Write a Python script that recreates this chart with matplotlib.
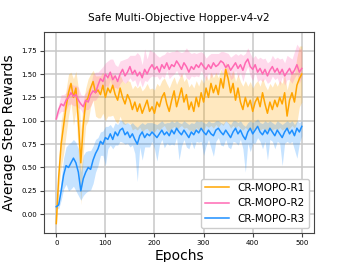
import numpy as np
from matplotlib import pyplot as plt

epochs = list(range(0, 501, 5))

r1_mean = [
    -0.10, 0.40, 0.75, 0.95, 1.15, 1.30, 1.40, 1.25, 1.35, 1.00, 0.55,
    0.95, 1.20, 1.25, 1.35, 1.42, 1.30, 1.33, 1.28, 1.38, 1.25,
    1.35, 1.30, 1.38, 1.28, 1.22, 1.35, 1.25, 1.18, 1.28, 1.22,
    1.12, 1.20, 1.10, 1.18, 1.08, 1.15, 1.22, 1.10, 1.15, 1.08,
    1.20, 1.15, 1.25, 1.30, 1.18, 1.10, 1.22, 1.32, 1.15, 1.25,
    1.35, 1.20, 1.28, 1.12, 1.20, 1.10, 1.25, 1.15, 1.30, 1.20,
    1.35, 1.25, 1.40, 1.30, 1.38, 1.28, 1.45, 1.35, 1.55, 1.45,
    1.30, 1.40, 1.22, 1.35, 1.20, 1.12, 1.25, 1.15, 1.22, 1.10,
    1.20, 1.25, 1.15, 1.30, 1.18, 1.08, 1.20, 1.12, 1.22, 1.15,
    1.25, 1.18, 1.30, 1.05, 1.22, 1.30, 1.20, 1.38, 1.45, 1.50,
]
r1_lo = [
    0.05, 0.15, 0.25, 0.30, 0.30, 0.25, 0.20, 0.30, 0.25, 0.35, 0.45,
    0.30, 0.25, 0.25, 0.20, 0.20, 0.25, 0.30, 0.25, 0.30, 0.25,
    0.30, 0.25, 0.32, 0.28, 0.25, 0.30, 0.28, 0.22, 0.30, 0.25,
    0.22, 0.28, 0.20, 0.25, 0.20, 0.24, 0.30, 0.22, 0.25, 0.20,
    0.28, 0.25, 0.32, 0.35, 0.28, 0.22, 0.30, 0.38, 0.25, 0.32,
    0.40, 0.28, 0.35, 0.22, 0.30, 0.22, 0.32, 0.25, 0.38, 0.30,
    0.40, 0.32, 0.45, 0.38, 0.42, 0.35, 0.48, 0.40, 0.55, 0.48,
    0.38, 0.45, 0.30, 0.40, 0.28, 0.22, 0.32, 0.25, 0.30, 0.20,
    0.28, 0.32, 0.25, 0.38, 0.28, 0.18, 0.30, 0.22, 0.30, 0.25,
    0.32, 0.28, 0.38, 0.15, 0.30, 0.35, 0.28, 0.40, 0.30, 0.30,
]
r1_hi = [
    0.05, 0.15, 0.25, 0.20, 0.18, 0.20, 0.12, 0.20, 0.18, 0.35, 0.35,
    0.25, 0.15, 0.20, 0.15, 0.12, 0.18, 0.15, 0.20, 0.14, 0.18,
    0.15, 0.18, 0.12, 0.16, 0.20, 0.14, 0.18, 0.22, 0.15, 0.20,
    0.22, 0.18, 0.25, 0.20, 0.24, 0.20, 0.18, 0.24, 0.20, 0.25,
    0.20, 0.22, 0.18, 0.16, 0.22, 0.25, 0.20, 0.15, 0.24, 0.20,
    0.16, 0.22, 0.18, 0.24, 0.20, 0.25, 0.18, 0.22, 0.15, 0.20,
    0.14, 0.18, 0.12, 0.16, 0.14, 0.18, 0.10, 0.16, 0.08, 0.12,
    0.18, 0.14, 0.20, 0.15, 0.22, 0.25, 0.18, 0.22, 0.20, 0.25,
    0.20, 0.18, 0.22, 0.16, 0.20, 0.25, 0.20, 0.24, 0.20, 0.22,
    0.18, 0.22, 0.20, 0.28, 0.22, 0.25, 0.30, 0.30, 0.35, 0.30,
]

r2_mean = [
    1.02, 1.12, 1.18, 1.16, 1.22, 1.25, 1.30, 1.26, 1.28, 1.22, 1.18,
    1.15, 1.22, 1.20, 1.28, 1.32, 1.30, 1.38, 1.45, 1.42, 1.50,
    1.46, 1.52, 1.44, 1.48, 1.42, 1.50, 1.55, 1.48, 1.52, 1.58,
    1.50, 1.54, 1.48, 1.52, 1.46, 1.55, 1.50, 1.56, 1.60, 1.55,
    1.58, 1.52, 1.60, 1.56, 1.62, 1.55, 1.60, 1.58, 1.64, 1.60,
    1.55, 1.62, 1.58, 1.52, 1.58, 1.55, 1.60, 1.57, 1.62, 1.58,
    1.55, 1.60, 1.56, 1.62, 1.58, 1.60, 1.64, 1.62, 1.57, 1.60,
    1.54, 1.58, 1.62, 1.56, 1.60, 1.54, 1.62, 1.66, 1.58, 1.55,
    1.60, 1.52, 1.56, 1.50, 1.55, 1.48, 1.54, 1.58, 1.52, 1.56,
    1.50, 1.55, 1.48, 1.52, 1.56, 1.50, 1.54, 1.60, 1.52, 1.56,
]
r2_lo = [
    0.02, 0.05, 0.08, 0.06, 0.10, 0.08, 0.12, 0.10, 0.12, 0.08, 0.06,
    0.08, 0.10, 0.08, 0.12, 0.10, 0.08, 0.12, 0.10, 0.08, 0.12,
    0.10, 0.08, 0.10, 0.12, 0.08, 0.10, 0.12, 0.08, 0.10, 0.12,
    0.08, 0.10, 0.12, 0.08, 0.10, 0.12, 0.08, 0.10, 0.12, 0.08,
    0.10, 0.08, 0.12, 0.10, 0.08, 0.10, 0.12, 0.08, 0.10, 0.12,
    0.08, 0.10, 0.12, 0.08, 0.10, 0.08, 0.12, 0.10, 0.08, 0.10,
    0.12, 0.08, 0.10, 0.12, 0.08, 0.10, 0.08, 0.12, 0.10, 0.08,
    0.10, 0.12, 0.08, 0.10, 0.08, 0.12, 0.10, 0.08, 0.10, 0.12,
    0.08, 0.10, 0.12, 0.08, 0.10, 0.08, 0.12, 0.10, 0.08, 0.10,
    0.12, 0.08, 0.10, 0.08, 0.12, 0.10, 0.08, 0.10, 0.12, 0.08,
]
r2_hi = [
    0.02, 0.06, 0.10, 0.12, 0.08, 0.14, 0.10, 0.12, 0.10, 0.14, 0.10,
    0.12, 0.08, 0.14, 0.10, 0.18, 0.22, 0.14, 0.10, 0.16, 0.12,
    0.18, 0.14, 0.22, 0.12, 0.16, 0.14, 0.10, 0.18, 0.15, 0.12,
    0.20, 0.16, 0.25, 0.18, 0.14, 0.22, 0.16, 0.20, 0.14, 0.18,
    0.12, 0.16, 0.10, 0.15, 0.12, 0.18, 0.14, 0.16, 0.12, 0.14,
    0.18, 0.12, 0.20, 0.22, 0.14, 0.18, 0.12, 0.16, 0.12, 0.14,
    0.12, 0.10, 0.16, 0.10, 0.14, 0.12, 0.10, 0.12, 0.16, 0.12,
    0.14, 0.12, 0.10, 0.14, 0.12, 0.16, 0.10, 0.12, 0.14, 0.12,
    0.10, 0.14, 0.12, 0.16, 0.12, 0.14, 0.10, 0.12, 0.14, 0.12,
    0.16, 0.12, 0.14, 0.18, 0.12, 0.16, 0.20, 0.22, 0.26, 0.20,
]

r3_mean = [
    0.08, 0.10, 0.25, 0.42, 0.52, 0.50, 0.55, 0.60, 0.55, 0.45, 0.25,
    0.38, 0.45, 0.50, 0.48, 0.58, 0.65, 0.70, 0.78, 0.75, 0.82,
    0.80, 0.86, 0.80, 0.88, 0.84, 0.90, 0.92, 0.85, 0.88, 0.82,
    0.86, 0.80, 0.75, 0.84, 0.88, 0.82, 0.86, 0.84, 0.88, 0.85,
    0.82, 0.86, 0.90, 0.85, 0.88, 0.84, 0.90, 0.86, 0.92, 0.88,
    0.85, 0.90, 0.86, 0.82, 0.88, 0.85, 0.90, 0.87, 0.92, 0.88,
    0.85, 0.90, 0.86, 0.84, 0.90, 0.92, 0.88, 0.85, 0.90, 0.86,
    0.82, 0.88, 0.92, 0.86, 0.90, 0.84, 0.80, 0.88, 0.92, 0.86,
    0.90, 0.94, 0.88, 0.85, 0.90, 0.86, 0.92, 0.88, 0.84, 0.90,
    0.86, 0.82, 0.88, 0.92, 0.86, 0.90, 0.84, 0.92, 0.88, 0.94,
]
r3_lo = [
    0.02, 0.04, 0.10, 0.15, 0.20, 0.25, 0.28, 0.30, 0.30, 0.25, 0.10,
    0.18, 0.22, 0.25, 0.22, 0.25, 0.20, 0.18, 0.15, 0.12, 0.30,
    0.10, 0.12, 0.10, 0.14, 0.10, 0.12, 0.15, 0.10, 0.12, 0.10,
    0.12, 0.15, 0.40, 0.12, 0.30, 0.10, 0.14, 0.12, 0.10, 0.15,
    0.25, 0.12, 0.10, 0.14, 0.12, 0.10, 0.15, 0.12, 0.10, 0.30,
    0.12, 0.10, 0.14, 0.12, 0.10, 0.15, 0.12, 0.10, 0.14, 0.25,
    0.12, 0.10, 0.15, 0.22, 0.12, 0.10, 0.14, 0.12, 0.10, 0.14,
    0.12, 0.10, 0.15, 0.12, 0.10, 0.14, 0.35, 0.12, 0.25, 0.10,
    0.14, 0.12, 0.10, 0.15, 0.12, 0.28, 0.12, 0.10, 0.14, 0.12,
    0.10, 0.30, 0.12, 0.14, 0.10, 0.12, 0.15, 0.32, 0.12, 0.10,
]
r3_hi = [
    0.02, 0.04, 0.12, 0.18, 0.20, 0.25, 0.22, 0.20, 0.22, 0.25, 0.20,
    0.25, 0.22, 0.18, 0.20, 0.15, 0.15, 0.12, 0.10, 0.14, 0.12,
    0.14, 0.10, 0.12, 0.10, 0.12, 0.10, 0.08, 0.12, 0.10, 0.14,
    0.12, 0.15, 0.18, 0.12, 0.10, 0.14, 0.12, 0.14, 0.10, 0.12,
    0.14, 0.12, 0.10, 0.12, 0.10, 0.14, 0.10, 0.12, 0.08, 0.10,
    0.12, 0.10, 0.12, 0.14, 0.10, 0.12, 0.10, 0.12, 0.08, 0.10,
    0.12, 0.10, 0.12, 0.14, 0.10, 0.08, 0.10, 0.12, 0.10, 0.12,
    0.14, 0.12, 0.08, 0.12, 0.10, 0.12, 0.14, 0.10, 0.08, 0.12,
    0.10, 0.08, 0.10, 0.12, 0.10, 0.12, 0.08, 0.10, 0.12, 0.10,
    0.12, 0.14, 0.10, 0.08, 0.12, 0.10, 0.12, 0.08, 0.10, 0.06,
]

series = [
    ('CR-MOPO-R1', r1_mean, r1_lo, r1_hi, 'orange'),
    ('CR-MOPO-R2', r2_mean, r2_lo, r2_hi, 'hotpink'),
    ('CR-MOPO-R3', r3_mean, r3_lo, r3_hi, 'dodgerblue'),
]

fig = plt.figure(figsize=(3.49, 2.62), dpi=100)
ax = fig.add_axes([0.126, 0.111, 0.774, 0.767])

x = np.array(epochs)
for label, mean, lo, hi, color in series:
    mean = np.array(mean)
    ax.fill_between(x, mean - np.array(lo), mean + np.array(hi),
                    color=color, alpha=0.25, linewidth=0)
    ax.plot(x, mean, color=color, linewidth=1.1, label=label)

ax.set_xlim(-25, 525)
ax.set_ylim(-0.20, 1.95)
ax.set_xticks([0, 100, 200, 300, 400, 500])
ax.set_yticks([0.0, 0.25, 0.5, 0.75, 1.0, 1.25, 1.5, 1.75])
ax.grid(True, color='#c8c8c8', linewidth=1.1)
ax.set_axisbelow(True)
ax.tick_params(labelsize=5, length=3, pad=2, color='#444444')
for sp in ax.spines.values():
    sp.set_color('#444444')

ax.set_title('Safe Multi-Objective Hopper-v4-v2', fontsize=7.6, pad=8)
ax.set_xlabel('Epochs', fontsize=10, labelpad=2)
ax.set_ylabel('Average Step Rewards', fontsize=10, labelpad=4)
ax.legend(loc='lower right', fontsize=7.5, handlelength=2.3,
          framealpha=1, edgecolor='#cccccc', fancybox=True)

fig.savefig('out.png', dpi=100)
